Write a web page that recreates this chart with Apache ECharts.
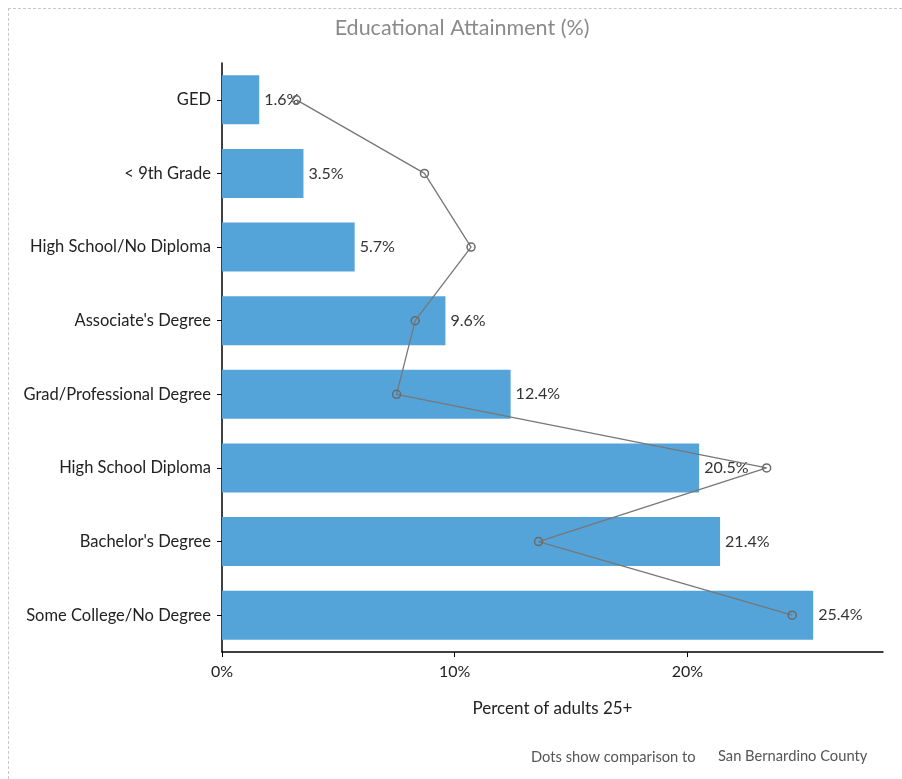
<!DOCTYPE html>
<html><head><meta charset="utf-8">
<script src="https://cdn.jsdelivr.net/npm/echarts@6/dist/echarts.min.js"></script>
<style>
html,body{margin:0;padding:0;background:#fff;}
#frame{position:absolute;left:8px;top:8px;right:0;bottom:0;border-top:1px dashed #c8c8c8;border-left:1px dashed #c8c8c8;}
#c{position:absolute;left:0;top:0;width:902px;height:779px;}
</style></head>
<body>
<div id="frame"></div>
<div id="c"></div>
<script>
const categories = ["GED", "< 9th Grade", "High School/No Diploma", "Associate's Degree", "Grad/Professional Degree", "High School Diploma", "Bachelor's Degree", "Some College/No Degree"];
const values = [1.6, 3.5, 5.7, 9.6, 12.4, 20.5, 21.4, 25.4];
const countyValues = [3.2, 8.7, 10.7, 8.3, 7.5, 23.4, 13.6, 24.5];
const xTicks = [0, 10, 20];

const FONT = 'Lato, "Open Sans", sans-serif';
const chart = echarts.init(document.getElementById('c'));
chart.setOption({
  animation: false,
  textStyle: {fontFamily: FONT},
  title: {
    text: 'Educational Attainment (%)',
    left: 457, top: 12, textAlign: 'center',
    textStyle: {fontFamily: FONT, fontSize: 21.5, fontWeight: 'normal', color: '#8a8a8a'}
  },
  graphic: [
    {type: 'text', left: 531, top: 750, style: {text: 'Dots show comparison to', font: '14.7px ' + FONT, fill: '#555'}},
    {type: 'text', left: 718, top: 749, style: {text: 'San Bernardino County', font: '14.7px ' + FONT, fill: '#555'}}
  ],
  grid: {left: 222, right: 19, top: 63, bottom: 127, containLabel: false},
  xAxis: {
    type: 'value', min: 0, max: 28.4, interval: 10,
    name: 'Percent of adults 25+', nameLocation: 'middle', nameGap: 48,
    nameTextStyle: {fontFamily: FONT, fontSize: 17, color: '#222'},
    axisLine: {show: true, lineStyle: {color: '#000', width: 1.5}},
    axisTick: {show: true, length: 5, lineStyle: {color: '#000'}},
    axisLabel: {fontFamily: FONT, fontSize: 16, color: '#222', margin: 12, showMaxLabel: false,
      formatter: v => (xTicks.indexOf(v) >= 0 ? v + '%' : '')},
    splitLine: {show: false}
  },
  yAxis: {
    type: 'category', data: categories, inverse: true,
    axisLine: {show: true, lineStyle: {color: '#000', width: 1.5}},
    axisTick: {show: true, alignWithLabel: true, length: 5, lineStyle: {color: '#000'}},
    axisLabel: {fontFamily: FONT, fontSize: 16.5, color: '#222', margin: 11}
  },
  series: [
    {
      type: 'bar', data: values, barWidth: 49,
      itemStyle: {color: '#55a4d9'},
      label: {show: true, position: 'right', distance: 5, fontFamily: FONT, fontSize: 16, color: '#333',
        formatter: p => p.value.toFixed(1) + '%'}
    },
    {
      type: 'line', data: countyValues, symbol: 'circle', symbolSize: 8,
      lineStyle: {color: '#777', width: 1.3},
      itemStyle: {color: 'rgba(255,255,255,0)', borderColor: '#6a6a6a', borderWidth: 1.5},
      z: 5
    }
  ]
});
</script>
</body></html>
